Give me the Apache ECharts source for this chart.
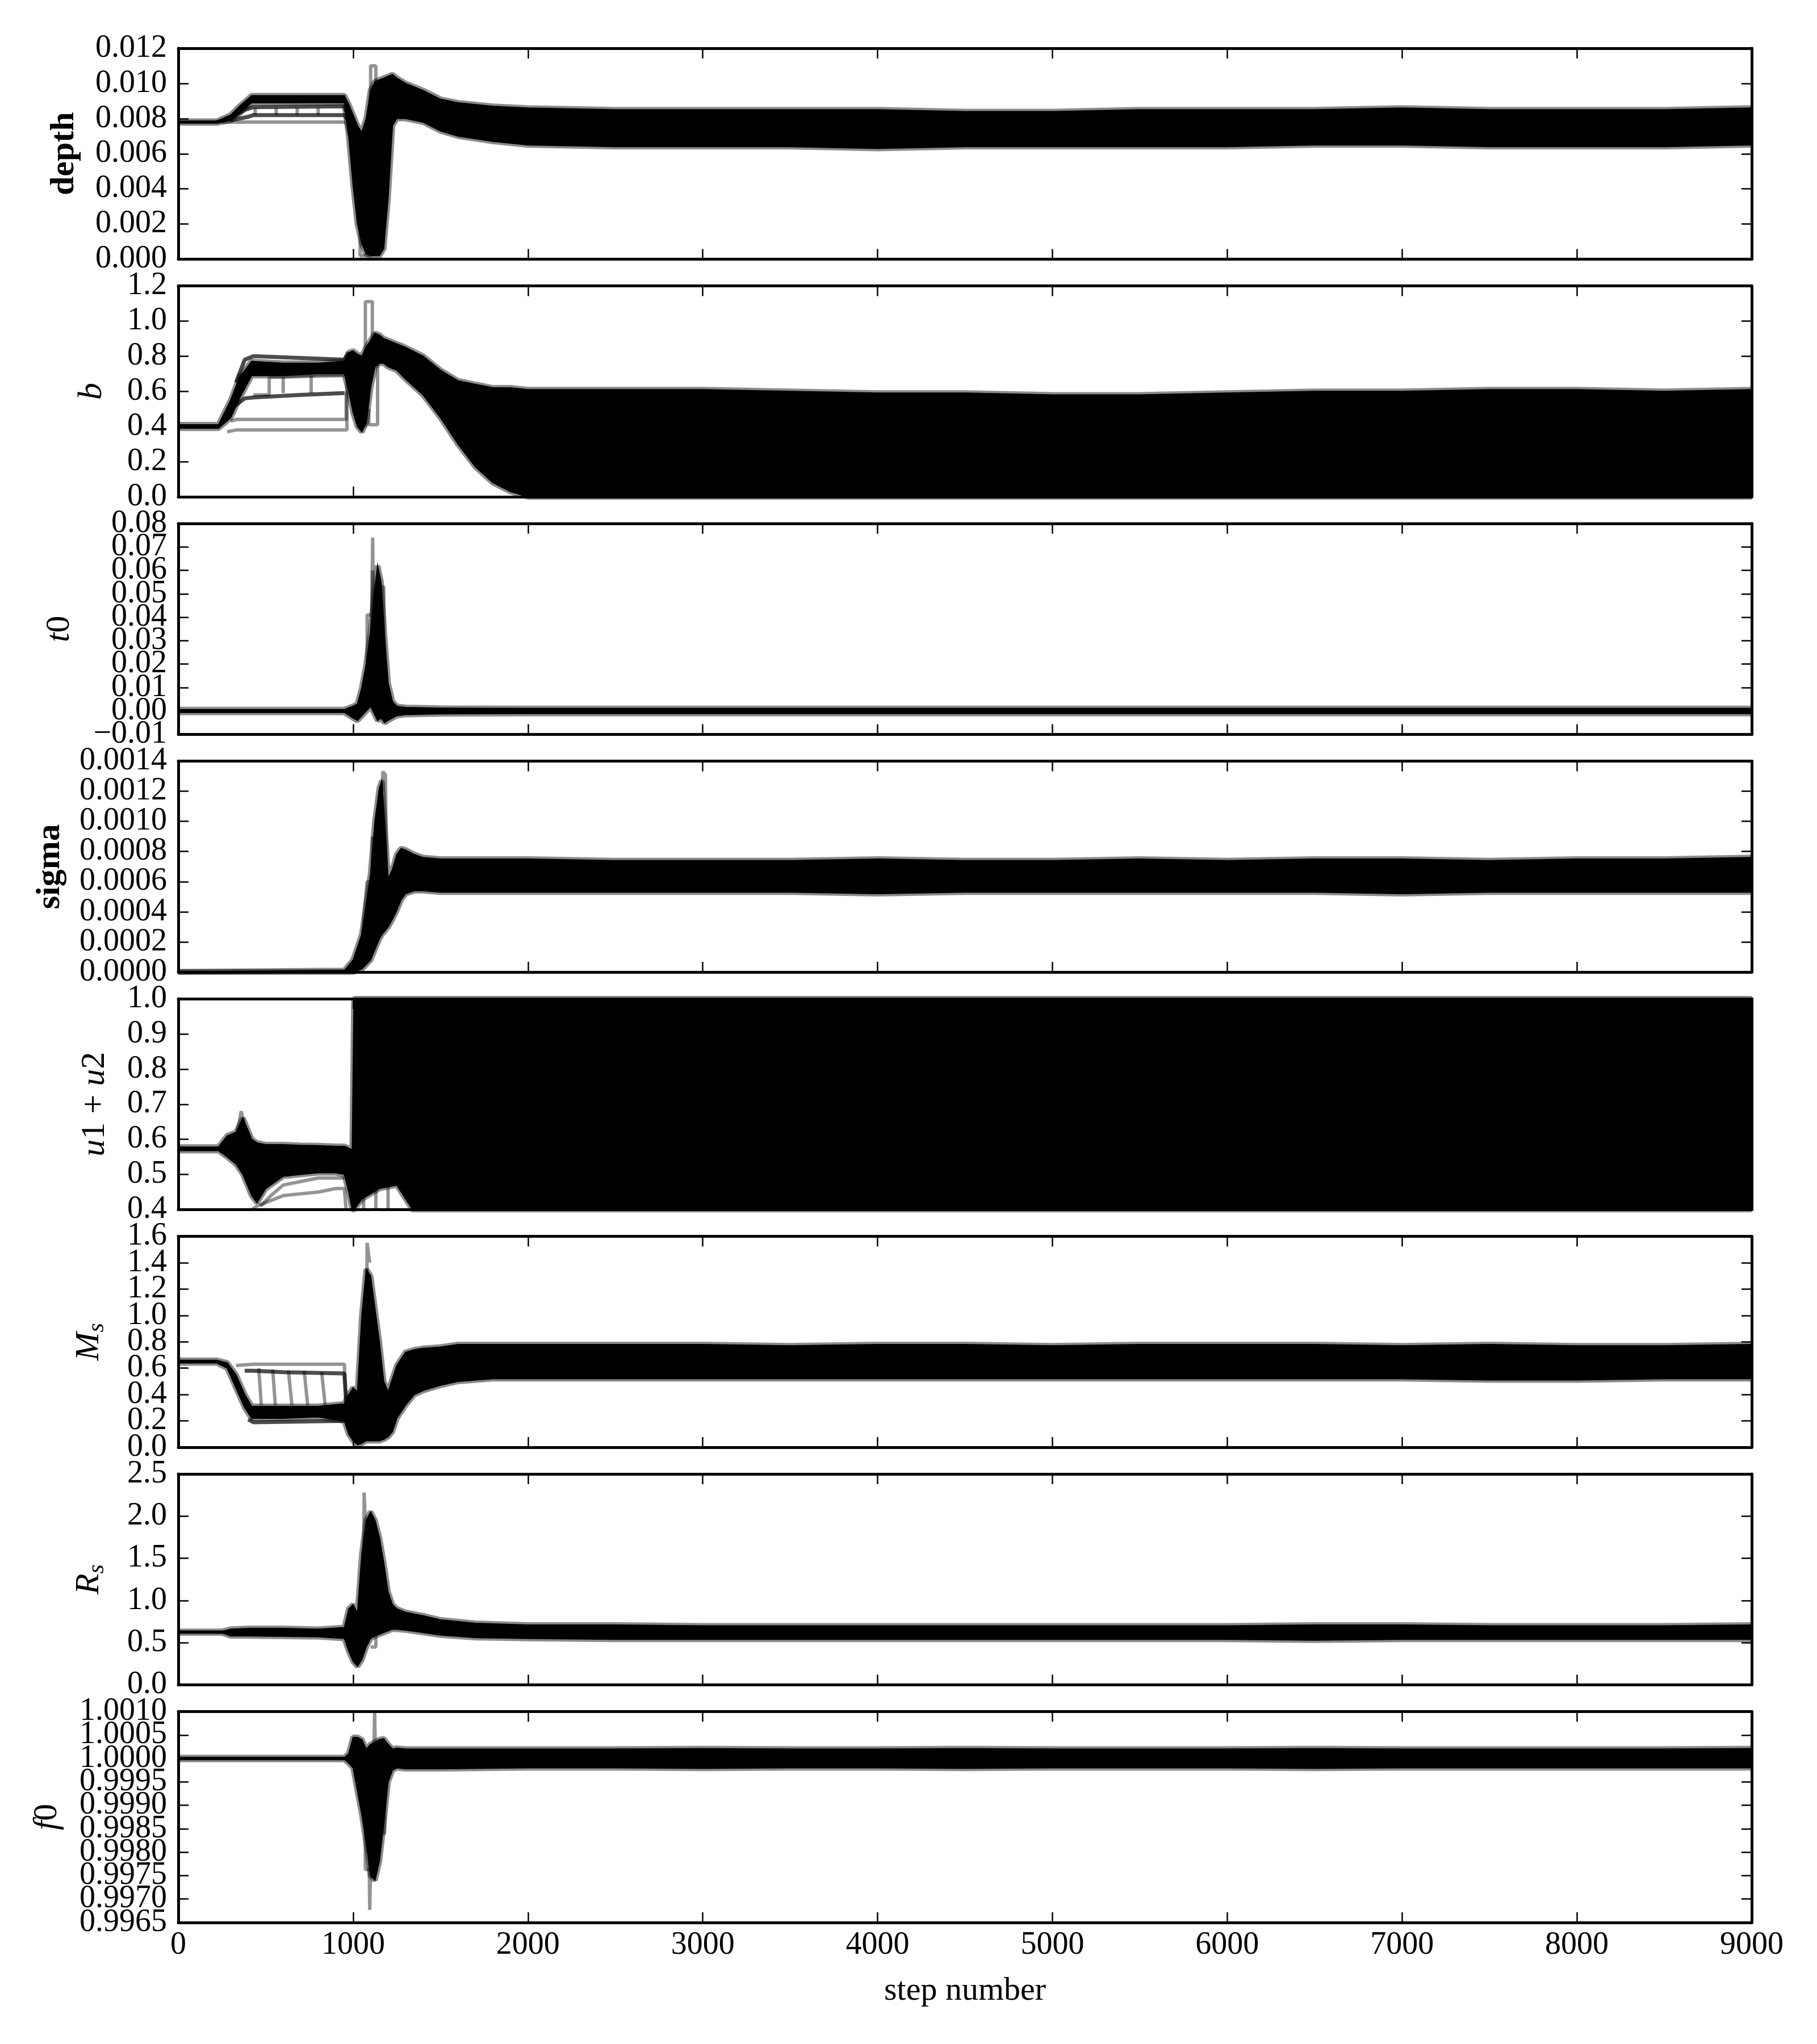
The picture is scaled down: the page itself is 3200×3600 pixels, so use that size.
<!DOCTYPE html>
<html>
<head>
<meta charset="utf-8">
<script src="https://cdn.jsdelivr.net/npm/echarts@6/dist/echarts.min.js"></script>
<style>
  html, body { margin: 0; padding: 0; background: #fff; }
  #chart { width: 3200px; height: 3600px; }
</style>
</head>
<body>
<div id="chart"></div>
<script>
// envelopes of the walker traces (step -> upper / lower edge)
const depthSteps = [0, 220, 300, 350, 420, 600, 800, 950, 975, 1000, 1025, 1050, 1075, 1100, 1125, 1150, 1175, 1200, 1225, 1250, 1300, 1400, 1500, 1600, 1800, 2000, 2500, 3000, 3500, 4000, 4500, 5000, 5500, 6000, 6500, 7000, 7500, 8000, 8500, 9000];
const depthHi = [0.00785, 0.00785, 0.0082, 0.0087, 0.0093, 0.0093, 0.0093, 0.0093, 0.0088, 0.0082, 0.0076, 0.0072, 0.0080, 0.0096, 0.0101, 0.0102, 0.0103, 0.0104, 0.0105, 0.0103, 0.0100, 0.0096, 0.0091, 0.0089, 0.0087, 0.0086, 0.0085, 0.0085, 0.0085, 0.0085, 0.0084, 0.0084, 0.0085, 0.0085, 0.0085, 0.0086, 0.0085, 0.0085, 0.0085, 0.0086];
const depthLo = [0.00775, 0.00775, 0.0079, 0.0083, 0.0089, 0.0089, 0.0089, 0.0089, 0.0070, 0.0042, 0.0020, 0.0009, 0.0003, 0.0002, 0.0002, 0.0002, 0.0006, 0.0035, 0.0076, 0.0080, 0.0080, 0.0078, 0.0073, 0.0070, 0.0067, 0.0065, 0.0064, 0.0064, 0.0064, 0.0063, 0.0064, 0.0064, 0.0064, 0.0064, 0.0065, 0.0065, 0.0064, 0.0064, 0.0064, 0.0065];
const depthDark = [
  [[220, 0.0078], [300, 0.0080], [380, 0.0085], [430, 0.00865], [950, 0.0087], [975, 0.0080]],
  [[300, 0.0079], [400, 0.0081], [430, 0.0082], [950, 0.0082], [975, 0.0078]]
];
const depthGrey = [
  [[250, 0.0078], [960, 0.0078], [980, 0.0070]],
  [[440, 0.0082], [440, 0.0086]], [[560, 0.0082], [560, 0.0086]], [[680, 0.0082], [680, 0.0086]], [[800, 0.0082], [800, 0.0086]],
  [[1040, 0.0060], [1040, 0.0002], [1100, 0.0002], [1100, 0.0090]],
  [[1100, 0.0080], [1100, 0.0110], [1130, 0.0110], [1130, 0.0090]]
];

const bSteps = [0, 230, 300, 350, 420, 600, 800, 950, 975, 1000, 1025, 1050, 1075, 1100, 1125, 1150, 1175, 1200, 1250, 1300, 1400, 1500, 1600, 1700, 1800, 1900, 2000, 2500, 3000, 3500, 4000, 4500, 5000, 5500, 6000, 6500, 7000, 7500, 8000, 8500, 9000];
const bHi = [0.41, 0.41, 0.55, 0.68, 0.77, 0.76, 0.76, 0.77, 0.82, 0.83, 0.81, 0.80, 0.85, 0.89, 0.93, 0.92, 0.90, 0.89, 0.87, 0.85, 0.80, 0.72, 0.66, 0.64, 0.62, 0.62, 0.61, 0.61, 0.61, 0.60, 0.59, 0.59, 0.58, 0.58, 0.59, 0.60, 0.60, 0.61, 0.61, 0.60, 0.61];
const bLo = [0.39, 0.39, 0.45, 0.56, 0.69, 0.69, 0.70, 0.70, 0.60, 0.48, 0.40, 0.37, 0.42, 0.62, 0.74, 0.76, 0.76, 0.74, 0.72, 0.67, 0.58, 0.45, 0.30, 0.17, 0.08, 0.03, 0, 0, 0, 0, 0, 0, 0, 0, 0, 0, 0, 0, 0, 0, 0];
const bDark = [
  [[330, 0.65], [380, 0.78], [430, 0.80], [700, 0.79], [950, 0.78], [975, 0.82]],
  [[300, 0.50], [380, 0.56], [430, 0.565], [700, 0.58], [950, 0.59]]
];
const bGrey = [
  [[300, 0.43], [330, 0.44], [950, 0.44], [960, 0.44], [960, 0.60]],
  [[280, 0.37], [330, 0.38], [950, 0.38], [965, 0.38], [965, 0.70]],
  [[430, 0.58], [520, 0.58], [520, 0.68], [950, 0.69]],
  [[600, 0.59], [600, 0.68]], [[760, 0.59], [760, 0.69]],
  [[1070, 0.40], [1070, 1.11], [1110, 1.11], [1110, 0.85]],
  [[1090, 0.50], [1090, 0.41], [1140, 0.41], [1140, 0.80]]
];

const t0Steps = [0, 950, 1000, 1025, 1050, 1075, 1100, 1120, 1140, 1160, 1180, 1200, 1225, 1250, 1300, 1500, 2000, 3000, 4000, 5000, 6000, 7000, 8000, 9000];
const t0Hi = [0.0006, 0.0006, 0.002, 0.003, 0.010, 0.020, 0.034, 0.050, 0.062, 0.055, 0.032, 0.012, 0.004, 0.002, 0.0015, 0.0012, 0.0011, 0.0011, 0.0011, 0.0011, 0.0011, 0.0011, 0.0011, 0.0011];
const t0Lo = [-0.0006, -0.0006, -0.003, -0.004, -0.002, 0.0, 0.002, -0.001, -0.004, -0.003, -0.005, -0.004, -0.003, -0.002, -0.0015, -0.0012, -0.0011, -0.0011, -0.0011, -0.0011, -0.0011, -0.0011, -0.0011, -0.0011];
const t0Dark = [];
const t0Grey = [
  [[1100, 0.002], [1112, 0.074], [1120, 0.010]],
  [[1080, 0.005], [1080, 0.041], [1110, 0.041], [1110, 0.060]],
  [[1150, 0.053], [1175, 0.053], [1175, 0.005]]
];

const sigmaSteps = [0, 950, 1000, 1050, 1100, 1125, 1150, 1165, 1180, 1200, 1225, 1250, 1275, 1300, 1350, 1400, 1500, 2000, 2500, 3000, 3500, 4000, 4500, 5000, 5500, 6000, 6500, 7000, 7500, 8000, 8500, 9000];
const sigmaHi = [0.000002, 0.00001, 0.00008, 0.00025, 0.00065, 0.0010, 0.00122, 0.00127, 0.0010, 0.00062, 0.00068, 0.00078, 0.00082, 0.00081, 0.00078, 0.00076, 0.00075, 0.00075, 0.00074, 0.00074, 0.00074, 0.00075, 0.00074, 0.00074, 0.00075, 0.00074, 0.00075, 0.00075, 0.00074, 0.00075, 0.00075, 0.00076];
const sigmaLo = [0, 0, 0, 0.00002, 0.00008, 0.00015, 0.00022, 0.00025, 0.00027, 0.00030, 0.00035, 0.00041, 0.00048, 0.00052, 0.00054, 0.00054, 0.00053, 0.00053, 0.00053, 0.00053, 0.00053, 0.00052, 0.00053, 0.00053, 0.00053, 0.00053, 0.00053, 0.00052, 0.00053, 0.00053, 0.00053, 0.00053];
const sigmaDark = [];
const sigmaGrey = [
  [[1165, 0.00120], [1170, 0.00133], [1185, 0.00131], [1190, 0.00060]],
  [[1050, 0.00020], [1080, 0.00060], [1110, 0.00060], [1110, 0.00090]]
];

const uSteps = [0, 230, 280, 330, 370, 420, 450, 500, 600, 700, 800, 900, 950, 975, 995, 1005, 1050, 1150, 1250, 1340, 1500, 2000, 3000, 4000, 5000, 6000, 7000, 8000, 9000];
const uHi = [0.578, 0.578, 0.61, 0.62, 0.66, 0.60, 0.59, 0.585, 0.585, 0.583, 0.582, 0.58, 0.58, 0.575, 0.57, 1.0, 1.0, 1.0, 1.0, 1.0, 1.0, 1.0, 1.0, 1.0, 1.0, 1.0, 1.0, 1.0, 1.0];
const uLo = [0.568, 0.568, 0.55, 0.53, 0.50, 0.44, 0.42, 0.46, 0.495, 0.50, 0.505, 0.505, 0.50, 0.45, 0.40, 0.40, 0.43, 0.46, 0.47, 0.40, 0.40, 0.40, 0.40, 0.40, 0.40, 0.40, 0.40, 0.40, 0.40];
const uDark = [];
const uGrey = [
  [[420, 0.40], [450, 0.41], [500, 0.42], [600, 0.44], [700, 0.445], [800, 0.45], [900, 0.46], [950, 0.46], [960, 0.40]],
  [[470, 0.41], [530, 0.44], [600, 0.47], [700, 0.48], [800, 0.49], [950, 0.49]],
  [[330, 0.60], [360, 0.68], [385, 0.62]],
  [[1060, 0.40], [1060, 0.62]], [[1130, 0.40], [1130, 0.58]], [[1200, 0.40], [1200, 0.55]]
];

const msSteps = [0, 220, 280, 330, 380, 420, 600, 800, 950, 975, 1000, 1025, 1050, 1075, 1100, 1125, 1150, 1175, 1200, 1225, 1250, 1300, 1350, 1400, 1500, 1600, 1800, 2000, 2500, 3000, 3500, 4000, 4500, 5000, 5500, 6000, 6500, 7000, 7500, 8000, 8500, 9000];
const msHi = [0.66, 0.66, 0.64, 0.55, 0.40, 0.31, 0.31, 0.31, 0.33, 0.40, 0.45, 0.42, 1.00, 1.35, 1.30, 1.05, 0.80, 0.50, 0.42, 0.52, 0.62, 0.72, 0.74, 0.75, 0.76, 0.78, 0.78, 0.78, 0.78, 0.78, 0.77, 0.78, 0.78, 0.77, 0.78, 0.78, 0.78, 0.77, 0.78, 0.77, 0.77, 0.78];
const msLo = [0.64, 0.64, 0.60, 0.45, 0.30, 0.22, 0.22, 0.23, 0.20, 0.10, 0.05, 0.02, 0.03, 0.05, 0.05, 0.05, 0.05, 0.06, 0.08, 0.12, 0.22, 0.32, 0.40, 0.43, 0.47, 0.50, 0.52, 0.52, 0.52, 0.52, 0.52, 0.52, 0.52, 0.52, 0.52, 0.52, 0.52, 0.52, 0.51, 0.51, 0.52, 0.52];
const msDark = [
  [[380, 0.58], [430, 0.58], [600, 0.57], [950, 0.56], [960, 0.35]],
  [[400, 0.21], [430, 0.19], [950, 0.20]]
];
const msGrey = [
  [[330, 0.62], [430, 0.63], [950, 0.63], [960, 0.30]],
  [[460, 0.60], [475, 0.32]], [[540, 0.59], [555, 0.32]], [[630, 0.58], [650, 0.32]], [[720, 0.58], [740, 0.32]], [[820, 0.57], [840, 0.32]],
  [[1075, 0.40], [1080, 1.55], [1095, 1.40]]
];

const rsSteps = [0, 250, 300, 400, 600, 800, 950, 975, 1000, 1025, 1050, 1075, 1100, 1125, 1150, 1175, 1200, 1225, 1250, 1300, 1400, 1500, 1700, 2000, 2500, 3000, 3500, 4000, 4500, 5000, 5500, 6000, 6500, 7000, 7500, 8000, 8500, 9000];
const rsHi = [0.635, 0.635, 0.66, 0.67, 0.67, 0.66, 0.68, 0.90, 0.95, 0.85, 1.55, 1.95, 2.05, 1.95, 1.75, 1.45, 1.10, 0.95, 0.90, 0.86, 0.82, 0.77, 0.73, 0.71, 0.71, 0.70, 0.70, 0.70, 0.70, 0.70, 0.70, 0.70, 0.71, 0.71, 0.70, 0.70, 0.70, 0.71];
const rsLo = [0.615, 0.615, 0.58, 0.58, 0.575, 0.57, 0.55, 0.40, 0.28, 0.22, 0.30, 0.45, 0.55, 0.58, 0.60, 0.62, 0.64, 0.66, 0.66, 0.65, 0.62, 0.59, 0.56, 0.55, 0.54, 0.54, 0.54, 0.54, 0.54, 0.54, 0.54, 0.54, 0.53, 0.54, 0.54, 0.54, 0.54, 0.54];
const rsDark = [];
const rsGrey = [
  [[1060, 1.00], [1063, 2.28], [1072, 1.80]],
  [[1100, 0.45], [1130, 0.45], [1130, 0.80]]
];

const f0Steps = [0, 950, 975, 1000, 1025, 1050, 1075, 1100, 1125, 1150, 1175, 1200, 1225, 1250, 1300, 1400, 1500, 2000, 2500, 3000, 3500, 4000, 4500, 5000, 5500, 6000, 6500, 7000, 7500, 8000, 8500, 9000];
const f0Hi = [1.00002, 1.00002, 1.0001, 1.00045, 1.00045, 1.0004, 1.0002, 1.0003, 1.00035, 1.0004, 1.00042, 1.0003, 1.0002, 1.00022, 1.0002, 1.0002, 1.0002, 1.0002, 1.0002, 1.00021, 1.0002, 1.0002, 1.00021, 1.0002, 1.0002, 1.0002, 1.00021, 1.0002, 1.0002, 1.0002, 1.0002, 1.00021];
const f0Lo = [0.99998, 0.99998, 0.9999, 0.9998, 0.9993, 0.9988, 0.9982, 0.9975, 0.9974, 0.9978, 0.9986, 0.9995, 0.99975, 0.9998, 0.99978, 0.99978, 0.99978, 0.9998, 0.9998, 0.99979, 0.9998, 0.9998, 0.99979, 0.9998, 0.9998, 0.9998, 0.99979, 0.9998, 0.9998, 0.9998, 0.9998, 0.9998];
const f0Dark = [];
const f0Grey = [
  [[1088, 0.9990], [1095, 0.99677], [1105, 0.9985]],
  [[1070, 0.9990], [1070, 0.99763], [1100, 0.99763], [1100, 0.9990]],
  [[1118, 0.9999], [1123, 1.0010], [1128, 1.0000]],
  [[1150, 0.9990], [1150, 0.9984], [1180, 0.9984], [1180, 0.9995]]
];

// axis setup
const yLabels = ['depth', '{i|b}', '{i|t}{r|0}', 'sigma', '{i|u}{r|1 + }{i|u}{r|2}', '{i|M}{s|s}', '{i|R}{s|s}', '{i|f}{r|0}'];
const yMin = [0, 0, -0.01, 0, 0.4, 0, 0, 0.9965];
const yMax = [0.012, 1.2, 0.08, 0.0014, 1.0, 1.6, 2.5, 1.0010];
const yStep = [0.002, 0.2, 0.01, 0.0002, 0.1, 0.2, 0.5, 0.0005];
const yDigits = [3, 1, 2, 4, 1, 1, 1, 4];
const xTicks = [0, 9000, 1000];

const bands = [
  [depthSteps, depthHi, depthLo, depthDark, depthGrey],
  [bSteps, bHi, bLo, bDark, bGrey],
  [t0Steps, t0Hi, t0Lo, t0Dark, t0Grey],
  [sigmaSteps, sigmaHi, sigmaLo, sigmaDark, sigmaGrey],
  [uSteps, uHi, uLo, uDark, uGrey],
  [msSteps, msHi, msLo, msDark, msGrey],
  [rsSteps, rsHi, rsLo, rsDark, rsGrey],
  [f0Steps, f0Hi, f0Lo, f0Dark, f0Grey]
];

const FONT = "'Liberation Serif', 'DejaVu Serif', serif";
const nameGaps = [171, 117, 174, 196, 112, 122, 122, 196];
const boldName = [true, false, false, true, false, false, false, false];

const chart = echarts.init(document.getElementById('chart'), null, { renderer: 'canvas' });

const grids = [], shadowGrids = [], xAxes = [], xTop = [], xShadow = [];
const yAxes = [], yRight = [], yShadow = [], series = [];
const frame = { show: true, onZero: false, lineStyle: { color: '#000', width: 5 } };
const ticks = { show: true, inside: true, length: 18, lineStyle: { color: '#000', width: 2.5 } };

// tick values of a panel, split into every other one so that crowded labels are all kept
function tickValues(i, parity) {
  const n = Math.round((yMax[i] - yMin[i]) / yStep[i]);
  const out = [];
  for (let k = parity; k <= n; k += 2) out.push(+(yMin[i] + k * yStep[i]).toFixed(8));
  return out;
}
function labelStyle(i, parity) {
  const d = yDigits[i];
  return {
    fontFamily: FONT, fontSize: 56, color: '#000', margin: 20,
    customValues: tickValues(i, parity),
    showMinLabel: true, showMaxLabel: true, hideOverlap: false,
    formatter: function (v) {
      const s = Math.abs(v).toFixed(d);
      return (v < 0 && parseFloat(s) !== 0 ? '\u2212' : '') + s;
    }
  };
}

for (let i = 0; i < 8; i++) {
  const box = { left: 314, right: 115, top: 85 + i * 418.5, height: 371.5, containLabel: false, outerBoundsMode: 'none' };
  grids.push(box);
  shadowGrids.push(Object.assign({}, box));

  const last = i === 7;
  xAxes.push({
    type: 'value', gridIndex: i, min: xTicks[0], max: xTicks[1], interval: xTicks[2],
    axisLine: frame, axisTick: ticks, splitLine: { show: false },
    axisLabel: {
      show: last, fontFamily: FONT, fontSize: 56, color: '#000', margin: 12,
      showMinLabel: true, showMaxLabel: true,
      formatter: function (v) { return String(Math.round(v)); }
    },
    name: last ? 'step number' : '', nameLocation: 'middle', nameGap: 92,
    nameTextStyle: { fontFamily: FONT, fontSize: 58, color: '#000' }
  });
  xTop.push({
    type: 'value', gridIndex: i, position: 'top', min: xTicks[0], max: xTicks[1], interval: xTicks[2],
    axisLine: frame, axisTick: ticks, axisLabel: { show: false }, splitLine: { show: false }
  });
  xShadow.push({ type: 'value', gridIndex: 8 + i, min: xTicks[0], max: xTicks[1], show: false });

  yAxes.push({
    type: 'value', gridIndex: i, min: yMin[i], max: yMax[i], interval: yStep[i],
    axisLine: frame, axisTick: ticks, splitLine: { show: false },
    axisLabel: labelStyle(i, 0),
    name: yLabels[i], nameLocation: 'middle', nameGap: nameGaps[i],
    nameTextStyle: {
      fontFamily: FONT, fontSize: 60, color: '#000', fontWeight: boldName[i] ? 'bold' : 'normal',
      rich: {
        i: { fontFamily: FONT, fontSize: 60, fontStyle: 'italic', color: '#000', lineHeight: 70 },
        r: { fontFamily: FONT, fontSize: 60, color: '#000', lineHeight: 70 },
        s: { fontFamily: FONT, fontSize: 42, fontStyle: 'italic', color: '#000', lineHeight: 42, verticalAlign: 'bottom' }
      }
    }
  });
  yRight.push({
    type: 'value', gridIndex: i, position: 'right', min: yMin[i], max: yMax[i], interval: yStep[i],
    axisLine: frame, axisTick: ticks, axisLabel: { show: false }, splitLine: { show: false }
  });
  yShadow.push({
    type: 'value', gridIndex: 8 + i, position: 'left', min: yMin[i], max: yMax[i], interval: yStep[i],
    axisLine: { show: false }, axisTick: { show: false }, splitLine: { show: false },
    axisLabel: labelStyle(i, 1)
  });

  const [steps, hi, lo, dark, grey] = bands[i];

  // dense region covered by the walkers
  series.push({
    type: 'custom', xAxisIndex: i, yAxisIndex: i, clip: true, silent: true, z: 2,
    data: steps.map((s, k) => [s, lo[k], hi[k]]),
    encode: { x: 0, y: [1, 2] },
    renderItem: function (params, api) {
      if (params.dataIndex !== 0) return null;
      const top = steps.map((s, k) => api.coord([s, hi[k]]));
      const bottom = steps.map((s, k) => api.coord([s, lo[k]])).reverse();
      return {
        type: 'polygon',
        shape: { points: top.concat(bottom) },
        style: { fill: '#000', stroke: '#000', lineWidth: 2 }
      };
    }
  });

  // soft grey fringe on the edges of the band
  [hi, lo].forEach(function (edge) {
    series.push({
      type: 'line', xAxisIndex: i, yAxisIndex: i, symbol: 'none', silent: true, clip: true, z: 3,
      data: steps.map((s, k) => [s, edge[k]]),
      lineStyle: { color: 'rgba(0,0,0,0.45)', width: 10 }
    });
  });

  // individual walkers that stand apart from the bulk
  dark.forEach(function (path) {
    series.push({
      type: 'line', xAxisIndex: i, yAxisIndex: i, symbol: 'none', silent: true, clip: true, z: 4,
      data: path, lineStyle: { color: 'rgba(0,0,0,0.7)', width: 7 }
    });
  });
  grey.forEach(function (path) {
    series.push({
      type: 'line', xAxisIndex: i, yAxisIndex: i, symbol: 'none', silent: true, clip: true, z: 4,
      data: path, lineStyle: { color: 'rgba(0,0,0,0.42)', width: 6 }
    });
  });
}

chart.setOption({
  animation: false,
  backgroundColor: '#fff',
  grid: grids.concat(shadowGrids),
  xAxis: xAxes.concat(xTop, xShadow),
  yAxis: yAxes.concat(yRight, yShadow),
  series: series
});
</script>
</body>
</html>
